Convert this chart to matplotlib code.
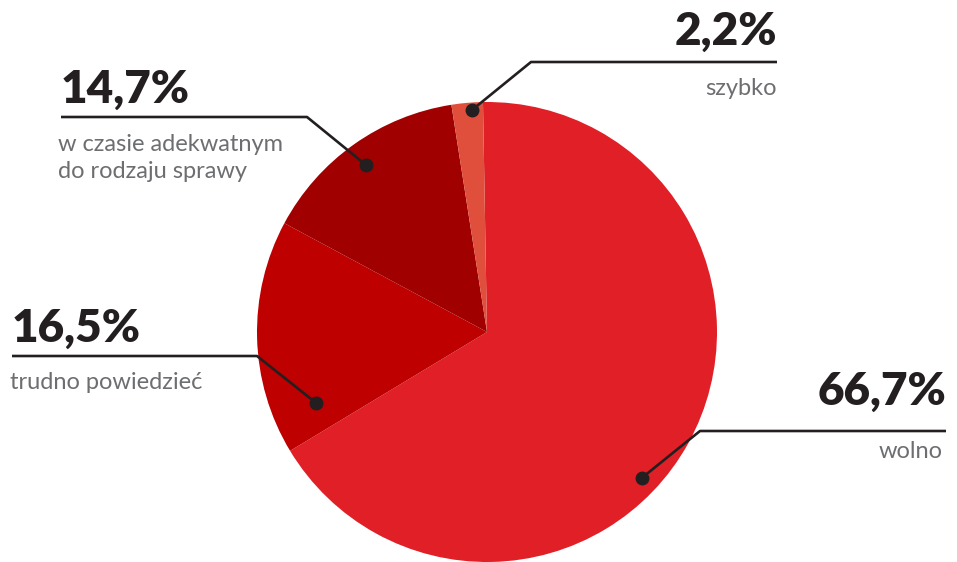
import matplotlib
matplotlib.use("Agg")
import matplotlib.pyplot as plt
import numpy as np

# ---- data ----
categories = ["wolno", "trudno powiedzieć", "w czasie adekwatnym\ndo rodzaju sprawy", "szybko"]
values = [66.7, 16.5, 14.7, 2.2]
value_labels = ["66,7%", "16,5%", "14,7%", "2,2%"]
colors = ["#E01F26", "#BE0000", "#A10000", "#E04E3C"]

W, H = 957, 562
fig = plt.figure(figsize=(W / 100, H / 100), dpi=100)
ax = fig.add_axes([0, 0, 1, 1])
ax.set_xlim(0, W)
ax.set_ylim(0, H)
ax.set_aspect("equal")
ax.axis("off")

cx, cy, R = 487, H - 332, 230
start = 91
wedges, _ = ax.pie(values, colors=colors, startangle=start, counterclock=False,
                   center=(cx, cy), radius=R, frame=True,
                   wedgeprops=dict(linewidth=0))
ax.set_xlim(0, W)
ax.set_ylim(0, H)
ax.axis("off")

# label layout: (dot angle deg, dot radius frac, elbow x, line y (img), line end x, text side)
layout = [
    dict(ang=-43.3, rf=0.925, ex=700, ly=431, lx=946, side="right", pb=405, tb=458, tx=943),
    dict(ang=-157.5, rf=0.805, ex=257, ly=356, lx=12, side="left", pb=342, tb=389, tx=10),
    dict(ang=125.9, rf=0.895, ex=307, ly=117, lx=61, side="left", pb=103, tb=151, tx=58),
    dict(ang=93.9, rf=0.967, ex=531, ly=62, lx=777, side="right", pb=45, tb=95, tx=777),
]

line_c = "#231F20"
for cat, vl, L in zip(categories, value_labels, layout):
    a = np.deg2rad(L["ang"])
    dx = cx + R * L["rf"] * np.cos(a)
    dy = cy + R * L["rf"] * np.sin(a)
    ly = H - L["ly"]
    ax.plot([dx, L["ex"], L["lx"]], [dy, ly, ly], color=line_c, lw=1.9,
            solid_capstyle="butt", zorder=3)
    ax.plot([dx], [dy], "o", color=line_c, ms=9, zorder=4)
    ha = L["side"]
    ax.text(L["lx"], H - L["pb"], vl, ha=ha, va="baseline", fontsize=33,
            fontfamily="Lato", fontweight="heavy", color=line_c)
    lines = cat.split("\n")
    for i, t in enumerate(lines):
        ax.text(L["tx"], H - L["tb"] - i * 27, t, ha=ha, va="baseline", fontsize=17,
                fontfamily="Lato", color="#6D6E71")

fig.savefig("out.png", dpi=100)
